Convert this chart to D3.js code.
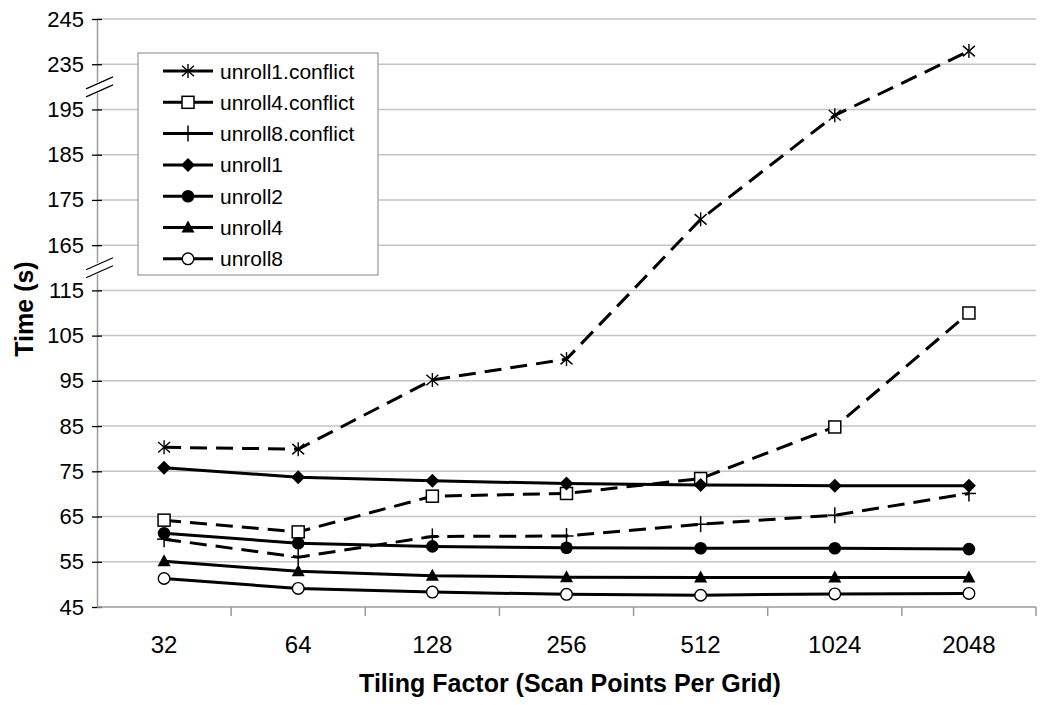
<!DOCTYPE html>
<html>
<head>
<meta charset="utf-8">
<script src="https://cdn.jsdelivr.net/npm/d3@7"></script>
<style>
  html, body { margin: 0; padding: 0; background: #fff; }
  svg { display: block; font-family: "Liberation Sans", Arial, Helvetica, sans-serif; }
</style>
</head>
<body>
<svg id="chart" width="1050" height="705"></svg>
<script>
// ---------- data ----------
const categories = ["32", "64", "128", "256", "512", "1024", "2048"];

const seriesNames = ["unroll1.conflict", "unroll4.conflict", "unroll8.conflict",
                     "unroll1", "unroll2", "unroll4", "unroll8"];

const unroll1Conflict = [80.3, 79.9, 95.2, 99.8, 170.7, 193.7, 237.9];
const unroll4Conflict = [64.2, 61.6, 69.5, 70.1, 73.4, 84.8, 110.0];
const unroll8Conflict = [60.0, 56.0, 60.6, 60.7, 63.3, 65.3, 70.1];
const unroll1 = [75.8, 73.7, 72.9, 72.3, 72.0, 71.8, 71.8];
const unroll2 = [61.3, 59.1, 58.4, 58.1, 58.0, 58.0, 57.8];
const unroll4 = [55.1, 52.9, 51.9, 51.6, 51.5, 51.5, 51.5];
const unroll8 = [51.3, 49.1, 48.3, 47.8, 47.6, 47.9, 48.0];

// broken y axis: tick labels shown, and the breakpoints of the piecewise scale
const yTicks = [45, 55, 65, 75, 85, 95, 105, 115, 165, 175, 185, 195, 235, 245];
const yBreakDomain = [45, 115, 165, 195, 235, 245];
const yBreaksAt = [115, 195]; // a break mark is drawn above these ticks

const xTitle = "Tiling Factor (Scan Points Per Grid)";
const yTitle = "Time (s)";

// ---------- layout ----------
const svg = d3.select("#chart");
const pLeft = 97, pRight = 1036, pTop = 19, pBottom = 607;
const step = (pBottom - pTop) / (yTicks.length - 1);

const y = d3.scaleLinear()
  .domain(yBreakDomain)
  .range(yBreakDomain.map(v => pBottom - yTicks.indexOf(v) * step));

const xBand = d3.scaleBand().domain(categories).range([pLeft, pRight]).padding(0);
const x = d3.scalePoint().domain(categories).range([pLeft, pRight]).padding(0.5);

const gridColor = "#c4c4c4";
const axisColor = "#9a9a9a";

// gridlines
svg.append("g").selectAll("line")
  .data(yTicks.slice(1))
  .join("line")
  .attr("x1", pLeft).attr("x2", pRight)
  .attr("y1", d => y(d)).attr("y2", d => y(d))
  .attr("stroke", gridColor).attr("stroke-width", 1.5);

// y axis
const yAxis = d3.axisLeft(y).tickValues(yTicks).tickSize(0).tickPadding(13);
const gy = svg.append("g").attr("transform", `translate(${pLeft},0)`).call(yAxis);
gy.select(".domain").attr("stroke", axisColor).attr("stroke-width", 1.5);
gy.selectAll(".tick text").attr("font-size", 22).attr("fill", "#000")
  .attr("font-family", "Liberation Sans, Arial, sans-serif");
gy.selectAll(".tick").append("line")
  .attr("x1", -5).attr("x2", 5).attr("stroke", "#000").attr("stroke-width", 1.3);

// x axis (ticks at band boundaries)
svg.append("line").attr("x1", pLeft).attr("x2", pRight).attr("y1", pBottom).attr("y2", pBottom)
  .attr("stroke", axisColor).attr("stroke-width", 1.5);
svg.append("g").selectAll("line")
  .data(categories.slice(1))
  .join("line")
  .attr("x1", d => xBand(d)).attr("x2", d => xBand(d))
  .attr("y1", pBottom).attr("y2", pBottom + 9)
  .attr("stroke", axisColor).attr("stroke-width", 1.5);
svg.append("line").attr("x1", pRight).attr("x2", pRight).attr("y1", pBottom).attr("y2", pBottom + 9)
  .attr("stroke", axisColor).attr("stroke-width", 1.5);

svg.append("g").selectAll("text")
  .data(categories)
  .join("text")
  .attr("x", d => x(d)).attr("y", 653)
  .attr("text-anchor", "middle").attr("font-size", 24)
  .text(d => d);

// break marks
const gb = svg.append("g");
yBreaksAt.forEach(v => {
  const i = yTicks.indexOf(v);
  const cy = (y(yTicks[i]) + y(yTicks[i + 1])) / 2;
  gb.append("rect").attr("x", 84).attr("y", cy - 5).attr("width", 30).attr("height", 10)
    .attr("fill", "#fff").attr("transform", `rotate(-25 ${pLeft + 2} ${cy})`);
  [-4, 4].forEach(o => {
    gb.append("line")
      .attr("x1", 86).attr("y1", cy + o + 6).attr("x2", 113).attr("y2", cy + o - 6)
      .attr("stroke", "#000").attr("stroke-width", 1.3);
  });
});

// titles
svg.append("text").attr("x", 570).attr("y", 692)
  .attr("text-anchor", "middle").attr("font-size", 25).attr("font-weight", "bold")
  .text(xTitle);
svg.append("text").attr("transform", "translate(33,309) rotate(-90)")
  .attr("text-anchor", "middle").attr("font-size", 25).attr("font-weight", "bold")
  .text(yTitle);

// ---------- series ----------
const allValues = [unroll1Conflict, unroll4Conflict, unroll8Conflict, unroll1, unroll2, unroll4, unroll8];
const markers = ["asterisk", "square", "plus", "diamond", "circle", "triangle", "ocircle"];
const dashed = [true, true, true, false, false, false, false];

function drawMarker(g, type, cx, cy) {
  const s = g.append("g").attr("transform", `translate(${cx},${cy})`);
  if (type === "asterisk") {
    const r = 7;
    [[0, -r, 0, r], [-r * 0.85, -r * 0.75, r * 0.85, r * 0.75], [-r * 0.85, r * 0.75, r * 0.85, -r * 0.75]].forEach(l =>
      s.append("line").attr("x1", l[0]).attr("y1", l[1]).attr("x2", l[2]).attr("y2", l[3])
        .attr("stroke", "#000").attr("stroke-width", 1.4));
  } else if (type === "square") {
    s.append("rect").attr("x", -6).attr("y", -6).attr("width", 12).attr("height", 12)
      .attr("fill", "#fff").attr("stroke", "#000").attr("stroke-width", 1.5);
  } else if (type === "plus") {
    s.append("line").attr("x1", -7).attr("x2", 7).attr("stroke", "#000").attr("stroke-width", 1.5);
    s.append("line").attr("y1", -8).attr("y2", 8).attr("stroke", "#000").attr("stroke-width", 1.5);
  } else if (type === "diamond") {
    s.append("path").attr("d", "M0,-7L7,0L0,7L-7,0Z").attr("fill", "#000");
  } else if (type === "circle") {
    s.append("circle").attr("r", 6.3).attr("fill", "#000");
  } else if (type === "triangle") {
    s.append("path").attr("d", "M0,-7L6.5,5L-6.5,5Z").attr("fill", "#000");
  } else if (type === "ocircle") {
    s.append("circle").attr("r", 5.8).attr("fill", "#fff").attr("stroke", "#000").attr("stroke-width", 1.4);
  }
}

const line = d3.line().x((d, i) => x(categories[i])).y(d => y(d));
const gs = svg.append("g");
allValues.forEach((vals, k) => {
  gs.append("path").datum(vals).attr("d", line)
    .attr("fill", "none").attr("stroke", "#000").attr("stroke-width", 3)
    .attr("stroke-dasharray", dashed[k] ? "17,9" : null);
});
allValues.forEach((vals, k) => {
  vals.forEach((v, i) => drawMarker(gs, markers[k], x(categories[i]), y(v)));
});

// ---------- legend ----------
const lg = svg.append("g");
lg.append("rect").attr("x", 138).attr("y", 53).attr("width", 240).attr("height", 222)
  .attr("fill", "#fff").attr("stroke", "#a0a0a0").attr("stroke-width", 1.3);
seriesNames.forEach((name, k) => {
  const cy = 71 + k * 31.3;
  lg.append("line").attr("x1", 163).attr("x2", 213).attr("y1", cy).attr("y2", cy)
    .attr("stroke", "#000").attr("stroke-width", 3);
  drawMarker(lg, markers[k], 188, cy);
  lg.append("text").attr("x", 220).attr("y", cy + 7.5).attr("font-size", 21).text(name);
});
</script>
</body>
</html>
